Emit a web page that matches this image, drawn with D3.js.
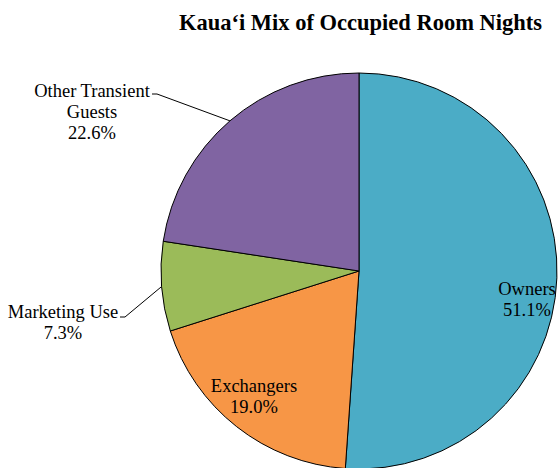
<!DOCTYPE html>
<html><head><meta charset="utf-8">
<script src="https://cdn.jsdelivr.net/npm/d3@7"></script>
<style>body{margin:0;background:#fff}svg{display:block}</style>
</head><body>
<script>
const categories = ["Owners", "Exchangers", "Marketing Use", "Other Transient Guests"];
const values = [51.1, 19.0, 7.3, 22.6];
const colors = ["#4BACC6", "#F79646", "#9BBB59", "#8064A2"];
const title = "Kaua\u2018i Mix of Occupied Room Nights";

const W = 560, H = 468, cx = 359, cy = 271, R = 198;
const FS = 18.5;
const svg = d3.select("body").append("svg").attr("width", W).attr("height", H)
  .attr("font-family", "Liberation Serif, Times New Roman, serif");

svg.append("text").attr("x", 360.5).attr("y", 30).attr("text-anchor", "middle")
  .attr("font-size", 22.5).attr("font-weight", "bold").text(title);

const data = categories.map((c, i) => ({c, v: values[i], col: colors[i]}));
const pie = d3.pie().value(d => d.v).sort(null);
const arcs = pie(data);
const arc = d3.arc().innerRadius(0).outerRadius(R);
const g = svg.append("g").attr("transform", `translate(${cx},${cy})`);
g.selectAll("path").data(arcs).join("path").attr("d", arc)
  .attr("fill", d => d.data.col).attr("stroke", "#000").attr("stroke-width", 1);

function pt(a, r) { return [r * Math.sin(a), -r * Math.cos(a)]; }
const mid = d => (d.startAngle + d.endAngle) / 2;

// label placement (layout only)
const labelPos = {
  "Owners": {lines: ["Owners"], lx: 527, ly: 295},
  "Exchangers": {lines: ["Exchangers"], lx: 254, ly: 392},
  "Marketing Use": {lines: ["Marketing Use"], lx: 63, ly: 318, leader: {sx: 120, sy: 317, ex: 125}},
  "Other Transient Guests": {lines: ["Other Transient", "Guests"], lx: 92, ly: 97, leader: {sx: 152, sy: 94, ex: 157}}
};
arcs.forEach(d => {
  const o = labelPos[d.data.c];
  if (o.leader) {
    const [ax, ay] = pt(mid(d), R);
    svg.append("polyline")
      .attr("points", `${o.leader.sx},${o.leader.sy} ${o.leader.ex},${o.leader.sy} ${cx + ax},${cy + ay}`)
      .attr("fill", "none").attr("stroke", "#000").attr("stroke-width", 1);
  }
  const t = svg.append("text").attr("text-anchor", "middle").attr("font-size", FS);
  const lines = o.lines.concat([d.data.v.toFixed(1) + "%"]);
  lines.forEach((l, i) => t.append("tspan").attr("x", o.lx).attr("y", o.ly + i * 20.8).text(l));
});
</script>
</body></html>
